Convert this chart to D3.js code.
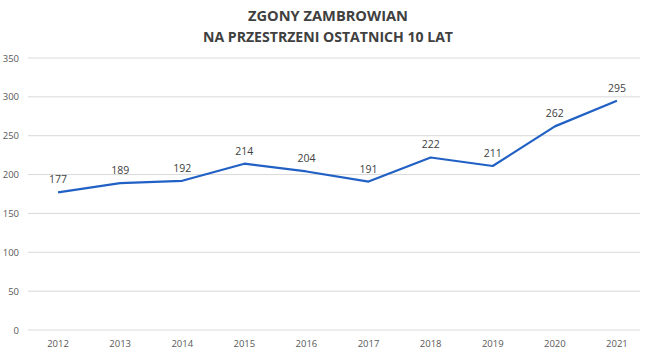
<!DOCTYPE html>
<html>
<head>
<meta charset="utf-8">
<script src="https://cdn.jsdelivr.net/npm/d3@7"></script>
<style>
  body { margin: 0; background: #fff; }
  text { font-family: "Open Sans", "Liberation Sans", sans-serif; }
</style>
</head>
<body>
<div id="chart"></div>
<script>
// Data
const years = ["2012", "2013", "2014", "2015", "2016", "2017", "2018", "2019", "2020", "2021"];
const deaths = [177, 189, 192, 214, 204, 191, 222, 211, 262, 295];
const yTicks = [0, 50, 100, 150, 200, 250, 300, 350];
const titleLines = ["ZGONY ZAMBROWIAN", "NA PRZESTRZENI OSTATNICH 10 LAT"];
const titleWidths = [160, 250];

const W = 650, H = 354;

const svg = d3.select("#chart")
    .append("svg")
    .attr("width", W)
    .attr("height", H);

// Scales
const x = d3.scaleBand()
    .domain(years)
    .range([27, 648]);

const y = d3.scaleLinear()
    .domain([0, 350])
    .range([330, 58]);

// Title (Calibri-like narrow look)
svg.selectAll(".title")
    .data(titleLines)
    .join("text")
    .attr("x", 328)
    .attr("y", (d, i) => 21 + i * 21)
    .attr("text-anchor", "middle")
    .attr("font-size", "15px")
    .attr("font-weight", "bold")
    .attr("fill", "#404040")
    .attr("textLength", (d, i) => titleWidths[i])
    .attr("lengthAdjust", "spacingAndGlyphs")
    .text(d => d);

// Gridlines
svg.append("g")
    .selectAll("line")
    .data(yTicks)
    .join("line")
    .attr("x1", 28)
    .attr("x2", 640)
    .attr("y1", d => y(d))
    .attr("y2", d => y(d))
    .attr("stroke", "#d9d9d9")
    .attr("stroke-width", 1);

// Y axis labels
svg.append("g")
    .selectAll("text")
    .data(yTicks)
    .join("text")
    .attr("x", 19)
    .attr("y", d => y(d) + 3.5)
    .attr("text-anchor", "end")
    .attr("font-size", "9.5px")
    .attr("fill", "#595959")
    .text(d => d);

// X axis labels
svg.append("g")
    .selectAll("text")
    .data(years)
    .join("text")
    .attr("x", d => x(d) + x.bandwidth() / 2)
    .attr("y", 347)
    .attr("text-anchor", "middle")
    .attr("font-size", "9.5px")
    .attr("fill", "#595959")
    .text(d => d);

// Line
const line = d3.line()
    .x((d, i) => x(years[i]) + x.bandwidth() / 2)
    .y(d => y(d));

svg.append("path")
    .datum(deaths)
    .attr("fill", "none")
    .attr("stroke", "#2160c4")
    .attr("stroke-width", 2.2)
    .attr("stroke-linejoin", "round")
    .attr("d", line);

// Data labels
svg.append("g")
    .selectAll("text")
    .data(deaths)
    .join("text")
    .attr("x", (d, i) => x(years[i]) + x.bandwidth() / 2)
    .attr("y", d => y(d) - 9)
    .attr("text-anchor", "middle")
    .attr("font-size", "10.5px")
    .attr("fill", "#404040")
    .text(d => d);
</script>
</body>
</html>
